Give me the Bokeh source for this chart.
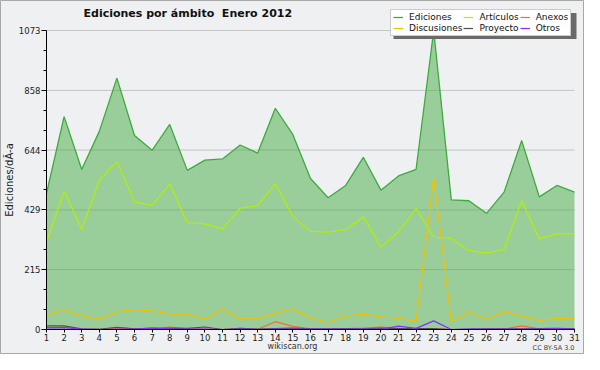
from bokeh.plotting import figure
from bokeh.models import (Range1d, FixedTicker, Label, Legend, LegendItem, BoxAnnotation, ColumnDataSource)
from bokeh.embed import file_html
from bokeh.resources import INLINE

days = list(range(1, 32))
ediciones = [488, 764, 574, 711, 902, 696, 643, 736, 571, 608, 612, 662, 633, 794, 699,
             542, 473, 517, 618, 500, 551, 575, 1073, 465, 462, 417, 493, 678, 476, 517, 493]
articulos = [313, 497, 360, 534, 603, 458, 445, 523, 383, 379, 361, 435, 445, 523, 406,
             352, 349, 359, 404, 296, 351, 434, 331, 327, 283, 274, 287, 462, 325, 343, 343]
discusiones = [53, 71, 50, 37, 64, 71, 67, 55, 55, 37, 74, 38, 38, 59, 74,
               41, 26, 48, 55, 45, 40, 30, 545, 30, 62, 37, 64, 48, 33, 40, 38]
anexos = [7, 9, 1, 0, 6, 2, 1, 9, 2, 1, 0, 4, 1, 28, 11,
          2, 1, 3, 5, 9, 4, 1, 2, 0, 0, 1, 1, 13, 2, 1, 1]
proyecto = [13, 13, 2, 1, 8, 2, 3, 5, 4, 9, 0, 4, 1, 3, 5,
            2, 2, 3, 2, 5, 3, 3, 3, 0, 1, 2, 2, 2, 3, 4, 2]
otros = [6, 7, 1, 0, 1, 1, 6, 2, 1, 1, 0, 1, 0, 1, 1,
         1, 1, 1, 1, 1, 12, 4, 31, 0, 1, 1, 1, 1, 1, 3, 1]

series_names = ["Ediciones", "Artículos", "Anexos", "Discusiones", "Proyecto", "Otros"]
title_text = "Ediciones por ámbito\u00a0 Enero 2012"
y_label = "Ediciones/dÃ-a"
footer_left = "wikiscan.org"
footer_right = "CC BY-SA 3.0"

ymax = max(ediciones)
yticks = [round(ymax * k / 5) for k in range(6)]
minor = []
for a, b in zip(yticks[:-1], yticks[1:]):
    minor += [a + (b - a) / 3, a + 2 * (b - a) / 3]

# layout (pixels): whole canvas is the frame, axes are fixed inside it
W, H = 584, 354
PL, PR, PT, PB = 46, 574, 30, 329          # plot-area edges in canvas pixels
dx = (days[-1] - days[0]) / (PR - PL)
dy = ymax / (PB - PT)
x_range = Range1d(days[0] - PL * dx, days[-1] + (W - PR) * dx)
y_range = Range1d(-(H - PB) * dy, ymax + PT * dy)

src = ColumnDataSource(dict(x=days, ed=ediciones, ar=articulos, di=discusiones,
                            an=anexos, pr=proyecto, ot=otros, zero=[0] * len(days)))

p = figure(width=W, height=H, output_backend="svg", toolbar_location=None,
           x_range=x_range, y_range=y_range, title_location=None,
           min_border_left=0, min_border_right=0, min_border_top=0, min_border_bottom=0)
p.background_fill_color = "#eff0f1"
p.border_fill_color = "#f0f0f0"
p.outline_line_color = "#a8a8a8"
p.grid.visible = False

# horizontal grid lines across the plot area only
p.segment(x0=[days[0]] * len(yticks), x1=[days[-1]] * len(yticks), y0=yticks, y1=yticks,
          line_color="#c4c4c4", line_width=1, level="underlay")

p.varea(x="x", y1="zero", y2="ed", source=src, fill_color="#44aa44", fill_alpha=0.5)
r_ed = p.line("x", "ed", source=src, line_color="#3cac3c", line_width=1.3)
r_ar = p.line("x", "ar", source=src, line_color="#b4f000", line_width=1.2)
r_an = p.line("x", "an", source=src, line_color="#ff6a2a", line_width=1.2)
r_di = p.line("x", "di", source=src, line_color="#f2c200", line_width=1.2)
r_pr = p.line("x", "pr", source=src, line_color="#505050", line_width=1.2)
r_ot = p.line("x", "ot", source=src, line_color="#8a2cff", line_width=1.2)

for ax in (p.xaxis[0], p.yaxis[0]):
    ax.axis_line_color = "black"
    ax.major_tick_line_color = "black"
    ax.minor_tick_line_color = "black"
    ax.major_label_text_font = "DejaVu Sans"
    ax.major_label_text_font_size = "8.5px"
    ax.major_label_text_color = "#222222"

p.xaxis.fixed_location = 0
p.xaxis.bounds = (days[0], days[-1])
p.xaxis.ticker = FixedTicker(ticks=days)
p.xaxis.major_tick_out = 3
p.xaxis.major_tick_in = 0
p.xaxis.major_label_standoff = 1

p.yaxis.fixed_location = days[0]
p.yaxis.bounds = (0, ymax)
p.yaxis.ticker = FixedTicker(ticks=yticks, minor_ticks=minor)
p.yaxis.major_tick_out = 5
p.yaxis.major_tick_in = 0
p.yaxis.minor_tick_out = 3
p.yaxis.minor_tick_in = 0
p.yaxis.major_label_standoff = 1
p.yaxis.axis_label = y_label
p.yaxis.axis_label_text_font = "DejaVu Sans"
p.yaxis.axis_label_text_font_size = "10px"
p.yaxis.axis_label_text_font_style = "normal"
p.yaxis.axis_label_text_color = "#222222"
p.yaxis.axis_label_standoff = 1

p.add_layout(Label(x=83, y=H - 12.5, x_units="screen", y_units="screen", text=title_text,
                   text_font="DejaVu Sans", text_font_style="bold", text_font_size="11px",
                   text_baseline="middle", text_color="#111111"))
p.add_layout(Label(x=292, y=H - 345.5, x_units="screen", y_units="screen", text=footer_left,
                   text_font="DejaVu Sans", text_font_size="8px", text_align="center",
                   text_baseline="middle", text_color="#333333"))
p.add_layout(Label(x=PR, y=H - 347.5, x_units="screen", y_units="screen", text=footer_right,
                   text_font="DejaVu Sans", text_font_size="6.5px", text_align="right",
                   text_baseline="middle", text_color="#444444"))

# legend box with its shadow
LX0, LY1, LW, LH = 390, 35.5, 183, 26
p.add_layout(BoxAnnotation(left=LX0 + 3, right=LX0 + LW + 3, bottom=H - LY1 - 3, top=H - LY1 + LH - 3,
                           left_units="screen", right_units="screen",
                           bottom_units="screen", top_units="screen",
                           fill_color="#6a6a6a", fill_alpha=1, line_color=None))

renderers = [r_ed, r_ar, r_an, r_di, r_pr, r_ot]
legend = Legend(items=[LegendItem(label=n, renderers=[r]) for n, r in zip(series_names, renderers)],
                location=(LX0, H - LY1), orientation="horizontal", ncols=3,
                label_text_font="DejaVu Sans", label_text_font_size="9px",
                label_text_line_height=1.0, label_text_color="#111111",
                label_height=9, glyph_height=8, glyph_width=10, label_standoff=6,
                spacing=1, padding=2, margin=0,
                border_line_color="#999999", background_fill_color="#ffffff",
                background_fill_alpha=1)
p.add_layout(legend, "center")

open("out.html", "w").write(file_html(p, INLINE))
